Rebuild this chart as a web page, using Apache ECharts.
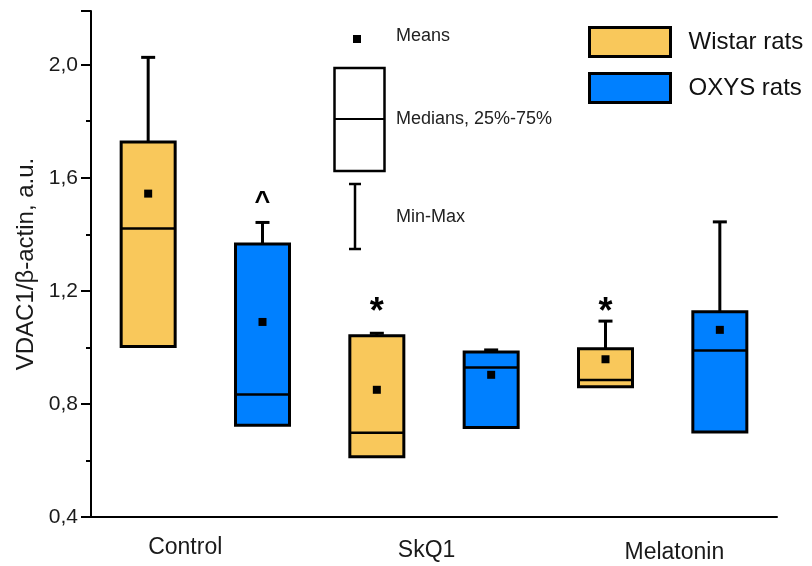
<!DOCTYPE html>
<html><head><meta charset="utf-8">
<script src="https://cdn.jsdelivr.net/npm/echarts@6/dist/echarts.min.js"></script>
<style>html,body{margin:0;padding:0;background:#fff}#c{width:812px;height:566px}</style>
</head><body><div id="c"></div>
<script>
// ---- data ----
const groups = ['Control', 'SkQ1', 'Melatonin'];
const seriesNames = ['Wistar rats', 'OXYS rats'];
const seriesColors = ['#F9C85B', '#0080FF'];
const yTicks = [0.4, 0.8, 1.2, 1.6, 2.0];

const wistarMin    = [1.003, 0.613, 0.861];
const wistarQ1     = [1.003, 0.613, 0.861];
const wistarMedian = [1.421, 0.698, 0.885];
const wistarQ3     = [1.727, 1.041, 0.995];
const wistarMax    = [2.026, 1.050, 1.093];
const wistarMean   = [1.544, 0.850, 0.958];

const oxysMin    = [0.725, 0.717, 0.701];
const oxysQ1     = [0.725, 0.717, 0.701];
const oxysMedian = [0.833, 0.929, 0.989];
const oxysQ3     = [1.366, 0.984, 1.126];
const oxysMax    = [1.442, 0.991, 1.444];
const oxysMean   = [1.090, 0.903, 1.062];

const wistarSig = ['', '*', '*'];
const wistarSigLevel = [null, 1.15, 1.15];
const oxysSig = ['^', '', ''];
const oxysSigLevel = [1.53, null, null];

// ---- build ----
const slots = [];
groups.forEach(g => seriesNames.forEach(s => slots.push(g + ' / ' + s)));

function build(sIdx, mn, q1, md, q3, mx, mean, sig, sigLvl) {
  return groups.map((g, i) => [i * 2 + sIdx, mn[i], q1[i], md[i], q3[i], mx[i], mean[i], sigLvl[i], sig[i]]);
}
const allData = [
  build(0, wistarMin, wistarQ1, wistarMedian, wistarQ3, wistarMax, wistarMean, wistarSig, wistarSigLevel),
  build(1, oxysMin, oxysQ1, oxysMedian, oxysQ3, oxysMax, oxysMean, oxysSig, oxysSigLevel)
];

const BOX_HALF = 27, CAP_HALF = 7, MEAN = 8;
function renderItem(params, api) {
  const x = api.value(0);
  const pMin = api.coord([x, api.value(1)]);
  const pQ1 = api.coord([x, api.value(2)]);
  const pMed = api.coord([x, api.value(3)]);
  const pQ3 = api.coord([x, api.value(4)]);
  const pMax = api.coord([x, api.value(5)]);
  const pMean = api.coord([x, api.value(6)]);
  const cx = pQ1[0];
  const color = api.visual('color');
  const children = [];
  const ls = { stroke: '#000', lineWidth: 3 };
  if (api.value(5) > api.value(4)) {
    children.push({ type: 'line', shape: { x1: cx, y1: pQ3[1], x2: cx, y2: pMax[1] }, style: ls });
    children.push({ type: 'line', shape: { x1: cx - CAP_HALF, y1: pMax[1], x2: cx + CAP_HALF, y2: pMax[1] }, style: ls });
  }
  if (api.value(1) < api.value(2)) {
    children.push({ type: 'line', shape: { x1: cx, y1: pQ1[1], x2: cx, y2: pMin[1] }, style: ls });
    children.push({ type: 'line', shape: { x1: cx - CAP_HALF, y1: pMin[1], x2: cx + CAP_HALF, y2: pMin[1] }, style: ls });
  }
  children.push({ type: 'rect', shape: { x: cx - BOX_HALF, y: pQ3[1], width: BOX_HALF * 2, height: pQ1[1] - pQ3[1] },
    style: { fill: color, stroke: '#000', lineWidth: 3, lineJoin: 'miter' } });
  children.push({ type: 'line', shape: { x1: cx - BOX_HALF, y1: pMed[1], x2: cx + BOX_HALF, y2: pMed[1] }, style: { stroke: '#000', lineWidth: 2.5 } });
  children.push({ type: 'rect', shape: { x: cx - MEAN / 2, y: pMean[1] - MEAN / 2, width: MEAN, height: MEAN }, style: { fill: '#000' } });
  const sigLvl = api.value(7);
  const sigTxt = allData[params.seriesIndex][params.dataIndex][8];
  if (sigTxt && sigLvl != null && !isNaN(sigLvl)) {
    const pS = api.coord([x, sigLvl]);
    const isStar = sigTxt === '*';
    children.push({ type: 'text', x: cx, y: pS[1] + (isStar ? 8 : 5),
      style: { text: sigTxt, fill: '#000', font: 'bold ' + (isStar ? '36px' : '27px') + ' "Liberation Sans", Arial, sans-serif',
        align: 'center', verticalAlign: 'middle' } });
  }
  return { type: 'group', children };
}

const labelRich = {
  g0: { fontSize: 23, fontFamily: '"Liberation Sans", Arial, sans-serif', color: '#1a1a1a', padding: [0, 0, 0, 0] },
  g1: { fontSize: 23, fontFamily: '"Liberation Sans", Arial, sans-serif', color: '#1a1a1a', padding: [3, 0, 0, 21] },
  g2: { fontSize: 23, fontFamily: '"Liberation Sans", Arial, sans-serif', color: '#1a1a1a', padding: [5, 0, 0, 19] }
};

const keyFont = '18px "Liberation Sans", Arial, sans-serif';
const chart = echarts.init(document.getElementById('c'), null, { renderer: 'canvas' });
chart.setOption({
  animation: false,
  backgroundColor: '#fff',
  grid: { left: 91, right: 35, top: 11, bottom: 49, containLabel: false },
  legend: {
    orient: 'vertical', left: 583, top: 21, icon: 'rect', itemWidth: 81, itemHeight: 29, itemGap: 14,
    selectedMode: false,
    textStyle: { fontSize: 24, fontFamily: '"Liberation Sans", Arial, sans-serif', color: '#111', padding: [0, 0, 0, 13] },
    data: seriesNames.map((n, i) => ({ name: n, itemStyle: { color: seriesColors[i], borderColor: '#000', borderWidth: 3 } }))
  },
  xAxis: {
    type: 'category', data: slots, boundaryGap: true,
    axisLine: { lineStyle: { color: '#000', width: 2 } },
    axisTick: { alignWithLabel: true, interval: 0, length: 6, lineStyle: { color: '#000', width: 2 } },
    axisLabel: {
      interval: 0, margin: 19, align: 'left',
      formatter: (v, idx) => idx % 2 === 0 ? '{g' + (idx / 2) + '|' + groups[idx / 2] + '}' : '',
      rich: labelRich
    },
    splitLine: { show: false }
  },
  yAxis: {
    type: 'value', min: yTicks[0], max: 2.19, interval: 0.4,
    name: 'VDAC1/β-actin, a.u.', nameLocation: 'middle', nameGap: 53, nameRotate: 90,
    nameTextStyle: { fontSize: 24, fontFamily: '"Liberation Sans", Arial, sans-serif', color: '#1a1a1a' },
    axisLine: { show: true, lineStyle: { color: '#000', width: 2 } },
    axisTick: { show: true, length: 10, lineStyle: { color: '#000', width: 2 } },
    minorTick: { show: true, splitNumber: 2, length: 5, lineStyle: { color: '#000', width: 2 } },
    axisLabel: { margin: 13, fontSize: 21, fontFamily: '"Liberation Sans", Arial, sans-serif', color: '#1a1a1a',
      formatter: v => yTicks.some(t => Math.abs(t - v) < 1e-6) ? v.toFixed(1).replace('.', ',') : '' },
    splitLine: { show: false }
  },
  graphic: [
    { type: 'rect', shape: { x: 353, y: 35, width: 8, height: 8 }, style: { fill: '#000' } },
    { type: 'text', x: 396, y: 36, style: { text: 'Means', font: keyFont, fill: '#222', verticalAlign: 'middle' } },
    { type: 'rect', shape: { x: 334.5, y: 68, width: 50, height: 103 }, style: { fill: 'none', stroke: '#000', lineWidth: 2.5 } },
    { type: 'line', shape: { x1: 334.5, y1: 119, x2: 384.5, y2: 119 }, style: { stroke: '#000', lineWidth: 2 } },
    { type: 'text', x: 396, y: 119, style: { text: 'Medians, 25%-75%', font: keyFont, fill: '#222', verticalAlign: 'middle' } },
    { type: 'line', shape: { x1: 355, y1: 184, x2: 355, y2: 249 }, style: { stroke: '#000', lineWidth: 2.5 } },
    { type: 'line', shape: { x1: 349, y1: 184, x2: 361, y2: 184 }, style: { stroke: '#000', lineWidth: 2.5 } },
    { type: 'line', shape: { x1: 349, y1: 249, x2: 361, y2: 249 }, style: { stroke: '#000', lineWidth: 2.5 } },
    { type: 'text', x: 396, y: 217, style: { text: 'Min-Max', font: keyFont, fill: '#222', verticalAlign: 'middle' } }
  ],
  series: seriesNames.map((n, s) => ({
    name: n, type: 'custom', renderItem,
    itemStyle: { color: seriesColors[s], borderColor: '#000', borderWidth: 3 },
    encode: { x: 0, y: [1, 2, 3, 4, 5, 6] },
    data: allData[s].map(r => r.slice(0, 8))
  }))
});
</script></body></html>
